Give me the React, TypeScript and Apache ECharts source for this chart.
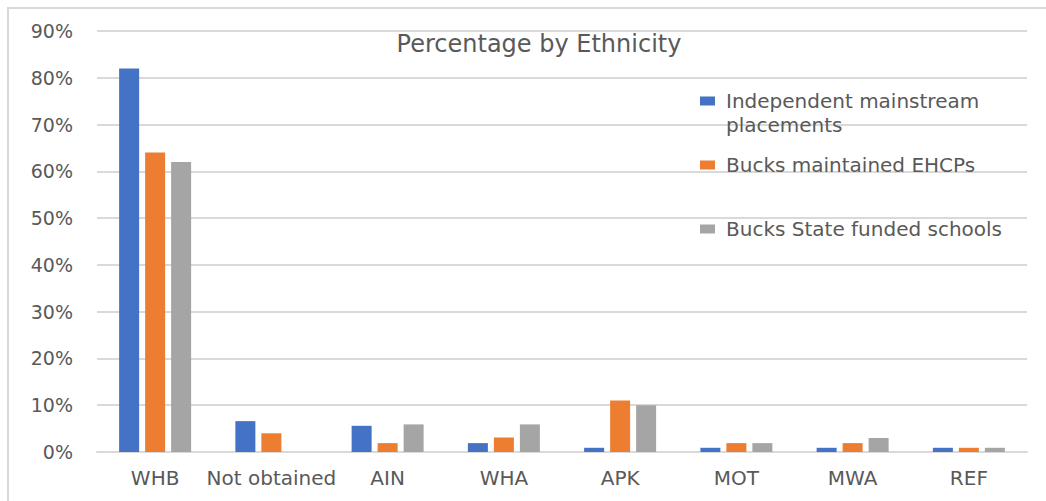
import React, { useEffect, useRef } from "react";
import * as echarts from "echarts";

const categories = ["WHB", "Not obtained", "AIN", "WHA", "APK", "MOT", "MWA", "REF"];
const independentMainstream = [82, 6.6, 5.6, 1.9, 0.9, 0.9, 0.9, 0.9];
const bucksMaintainedEHCPs = [64, 4, 1.9, 3.1, 11, 1.9, 1.9, 0.9];
const bucksStateFunded = [62, 0, 5.9, 5.9, 10, 1.9, 3, 0.9];
const seriesNames = [
  "Independent mainstream placements",
  "Bucks maintained EHCPs",
  "Bucks State funded schools",
];
const colors = ["#4472C4", "#ED7D31", "#A5A5A5"];
const titleText = "Percentage by Ethnicity";

const FONT = "DejaVu Sans";
const TEXT = "#595959";
const GRID = "#d9d9d9";
const LEGEND_ICON = "path://M0,0h15v9h-15z M21,0h0.01v0.01h-0.01z";

export default function App() {
  const ref = useRef<HTMLDivElement>(null);
  useEffect(() => {
    if (!ref.current) return;
    const chart = echarts.init(ref.current, undefined, { renderer: "svg" });
    const values = [independentMainstream, bucksMaintainedEHCPs, bucksStateFunded];
    const legendBase = {
      orient: "vertical",
      left: 700,
      padding: 0,
      itemWidth: 21,
      itemHeight: 9,
      icon: LEGEND_ICON,
      textStyle: { fontFamily: FONT, fontSize: 20, color: TEXT, lineHeight: 24 },
    };
    chart.setOption({
      animation: false,
      backgroundColor: "#ffffff",
      title: {
        text: titleText,
        left: 534,
        top: 27,
        textAlign: "center",
        textStyle: { fontFamily: FONT, fontSize: 24, fontWeight: "normal", color: TEXT },
      },
      graphic: [
        {
          type: "rect",
          shape: { x: 8, y: 8, width: 1200, height: 700 },
          style: { fill: "none", stroke: GRID, lineWidth: 2 },
          silent: true,
        },
      ],
      legend: [
        {
          ...legendBase,
          data: [seriesNames[0]],
          top: 65,
          formatter: () => " \nIndependent mainstream\nplacements",
        },
        { ...legendBase, data: [seriesNames[1]], top: 153 },
        { ...legendBase, data: [seriesNames[2]], top: 217 },
      ],
      grid: { left: 97, right: 19, top: 31, bottom: 49, containLabel: false },
      xAxis: {
        type: "category",
        data: categories,
        axisLine: { show: true, lineStyle: { color: GRID, width: 2 } },
        axisTick: { show: false },
        axisLabel: { fontFamily: FONT, fontSize: 20, color: TEXT, margin: 16, interval: 0 },
      },
      yAxis: {
        type: "value",
        min: 0,
        max: 90,
        interval: 10,
        axisLine: { show: false },
        axisTick: { show: false },
        axisLabel: {
          fontFamily: FONT,
          fontSize: 19,
          color: TEXT,
          margin: 24,
          formatter: "{value}%",
        },
        splitLine: { lineStyle: { color: GRID, width: 2 } },
      },
      series: seriesNames.map((name, i) => ({
        name,
        type: "bar",
        data: values[i],
        barWidth: 20,
        barGap: "30%",
        itemStyle: { color: colors[i] },
      })),
    });
    return () => chart.dispose();
  }, []);
  return (
    <div
      ref={ref}
      style={{ position: "fixed", left: 0, top: 0, width: 1046, height: 501 }}
    />
  );
}
